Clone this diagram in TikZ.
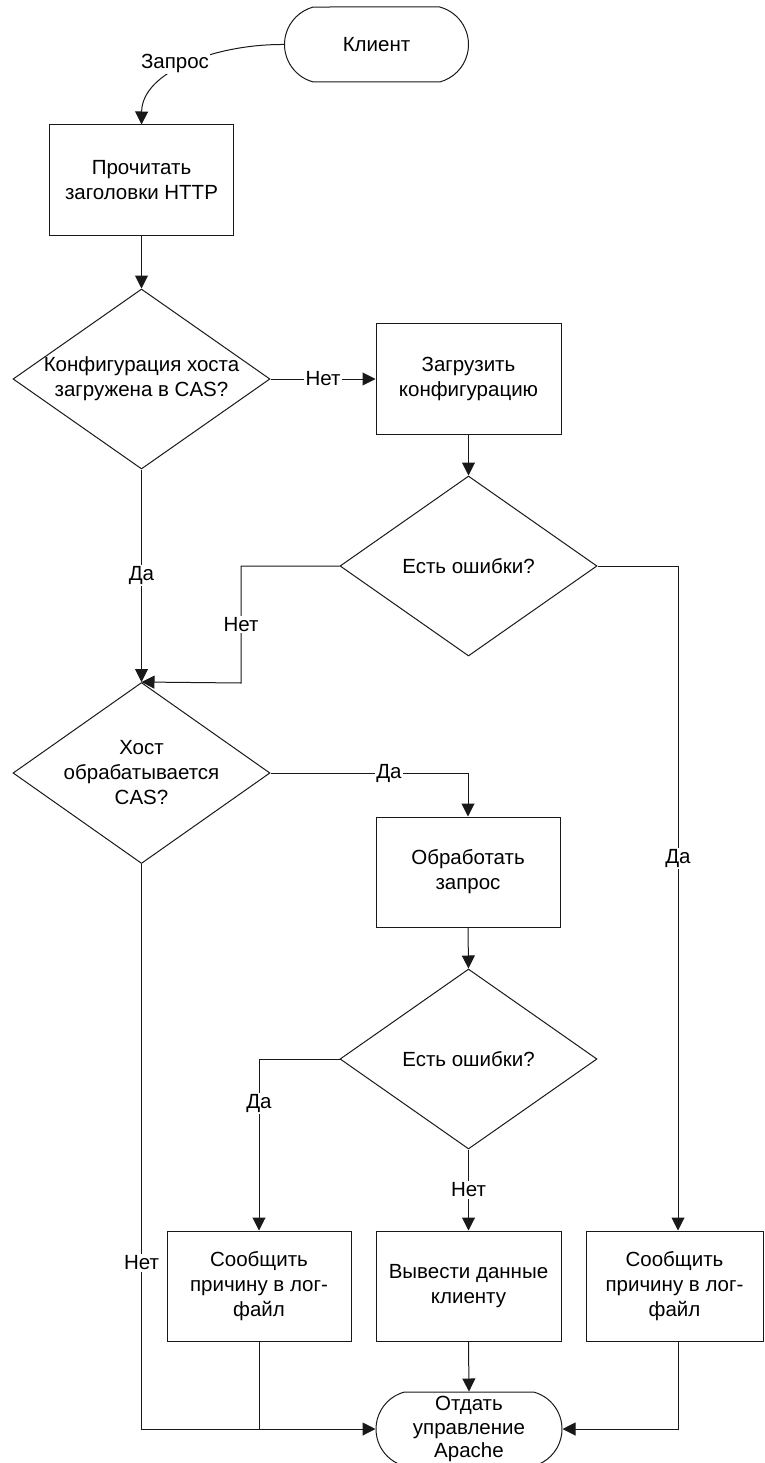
\documentclass[tikz,border=0pt]{standalone}
\usepackage{fontspec}
\setmainfont{Liberation Sans}
\usetikzlibrary{shapes.geometric,shapes.misc,arrows.meta}

\begin{document}
\begin{tikzpicture}[x=1pt,y=-1pt,
  every node/.style={font=\fontsize{20.5}{25}\selectfont, align=center},
  conn/.style={line width=1pt, draw=black!90},
  arr/.style={conn, -{Triangle[length=13pt,width=13pt]}},
  stepbox/.style={draw=black!90, line width=1pt, rectangle, inner sep=0pt,
    minimum width=184pt, minimum height=110pt},
  decision/.style={draw=black!90, line width=1pt, diamond, inner sep=0pt,
    minimum width=257pt, minimum height=180pt},
  terminal/.style={draw=black!90, line width=1pt, rounded rectangle,
    rounded rectangle arc length=150, inner sep=0pt,
    minimum width=184pt, minimum height=75pt},
  tag/.style={fill=white, inner sep=1.5pt},
]
\useasboundingbox (0,0) rectangle (764,1463);

% blocks
\node[terminal] (client) at (376.5,44.5) {Клиент};
\node[stepbox, minimum height=111pt] (read) at (141.5,180.5) {Прочитать\\заголовки HTTP};
\node[decision, label={center:{Конфигурация хоста\\загружена в CAS?}}] (cfgq) at (141.5,379) {};
\node[stepbox, minimum width=185pt, minimum height=111pt] (load) at (468.5,379) {Загрузить\\конфигурацию};
\node[decision, label={center:{Есть ошибки?}}] (err1) at (468.5,566) {};
\node[decision, minimum height=181pt, label={center:{Хост\\обрабатывается\\CAS?}}] (hostq) at (141.5,773) {};
\node[stepbox] (proc) at (468,872) {Обработать\\запрос};
\node[decision, label={center:{Есть ошибки?}}] (err2) at (468.5,1059) {};
\node[stepbox] (log1) at (259,1286) {Сообщить\\причину в лог-\\файл};
\node[stepbox, minimum width=185pt] (out) at (468.5,1286) {Вывести данные\\клиенту};
\node[stepbox, minimum width=177pt] (log2) at (674.5,1286) {Сообщить\\причину в лог-\\файл};
\node[terminal, minimum width=186pt, minimum height=74pt,
      font=\fontsize{20.5}{23.5}\selectfont] (apache) at (469,1429) {Отдать\\управление\\Apache};

% connectors
\draw[arr] (client.west) .. controls (215,44) and (142,72) .. (read.north);
\node[tag] (asklabel) at (175,63) {Запрос};

\draw[arr] (read.south) -- (cfgq.north);
\draw[arr] (cfgq.east) -- node[tag] {Нет} (load.west);
\draw[arr] (load.south) -- (err1.north);
\draw[arr] (err1.west) -| node[tag, pos=0.75] {Нет} (241,683) -- (hostq.north);
\draw[arr] (cfgq.south) -- node[tag] {Да} (hostq.north);
\draw[arr] (hostq.east) -| node[tag, pos=0.3] {Да} (proc.north);
\draw[arr] (proc.south) -- (err2.north);
\draw[arr] (err2.west) -| node[tag, pos=0.63] {Да} (log1.north);
\draw[arr] (err2.south) -- node[tag] {Нет} (out.north);
\draw[arr] (err1.east) -| node[tag, pos=0.72] {Да} ([xshift=3.5pt]log2.north);
\draw[arr] (hostq.south) |- node[tag, pos=0.353] {Нет} (apache.west);
\draw[conn] (log1.south) -- (log1.south |- apache.west);
\draw[arr] (out.south) -- (apache.north);
\draw[arr] ([xshift=3.5pt]log2.south) |- (apache.east);
\end{tikzpicture}
\end{document}
